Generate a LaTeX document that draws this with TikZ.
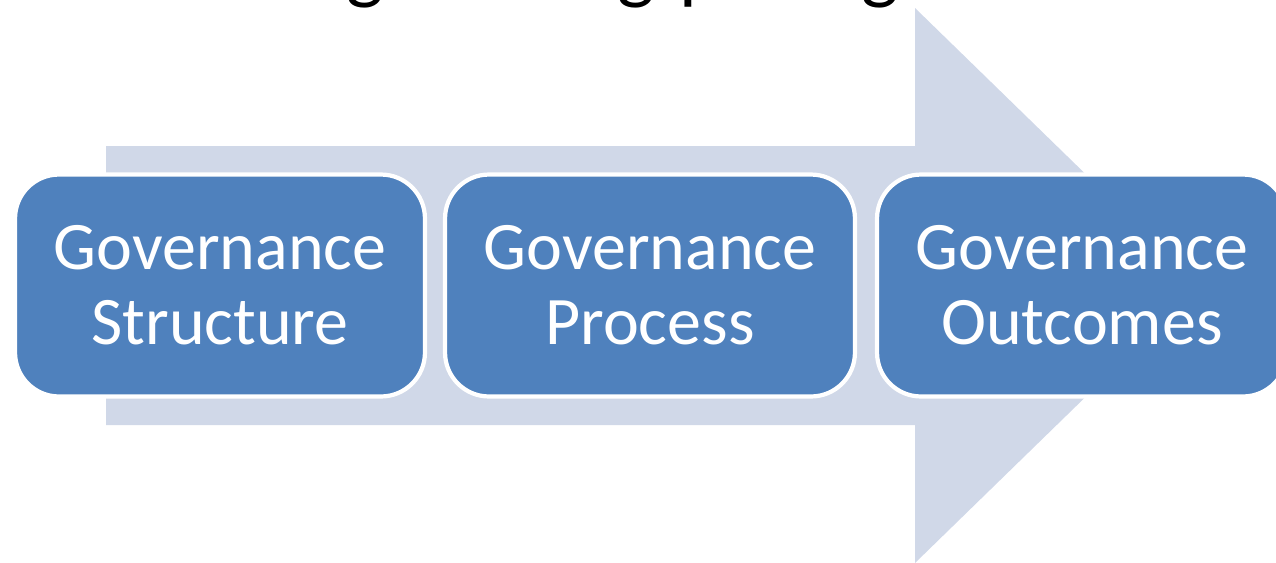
\documentclass[tikz,border=0pt]{standalone}
\usepackage{fontspec}
\setmainfont{Carlito}
\definecolor{boxblue}{HTML}{4F81BD}
\definecolor{arrowgray}{HTML}{D0D8E8}
\begin{document}
\begin{tikzpicture}[x=0.02cm,y=-0.02cm,
  stage/.style={draw=white, line width=2.4pt, fill=boxblue, rounded corners=25pt,
    minimum width=8.2cm, minimum height=4.44cm, text=white, align=center,
    font=\fontsize{38.7}{42.5}\selectfont, inner sep=0pt},
  titleglyph/.style={text=black, inner sep=0pt, font=\fontsize{45}{50}\selectfont}]
\useasboundingbox (0,0) rectangle (1276,562);
\clip (0,0) rectangle (1276,562);
% background arrow
\fill[arrowgray] (106,146) -- (915,146) -- (915,8) -- (1200,285.5) -- (915,563)
  -- (915,425) -- (106,425) -- cycle;
% cut-off title (only descenders visible)
\node[titleglyph, anchor=base] (t1) at (365,-6) {g};
\node[titleglyph, anchor=base] (t2) at (636,-6) {g};
\node[titleglyph, anchor=base west] (t3) at (679,-6) {p};
\node[titleglyph, anchor=base] (t4) at (880,-6) {g};
% stages
\node[stage] (s1) at (220,285.5) {Governance\\Structure};
\node[stage] (s2) at (650,285.5) {Governance\\Process};
\node[stage] (s3) at (1082,285.5) {Governance\\Outcomes};
\end{tikzpicture}
\end{document}
